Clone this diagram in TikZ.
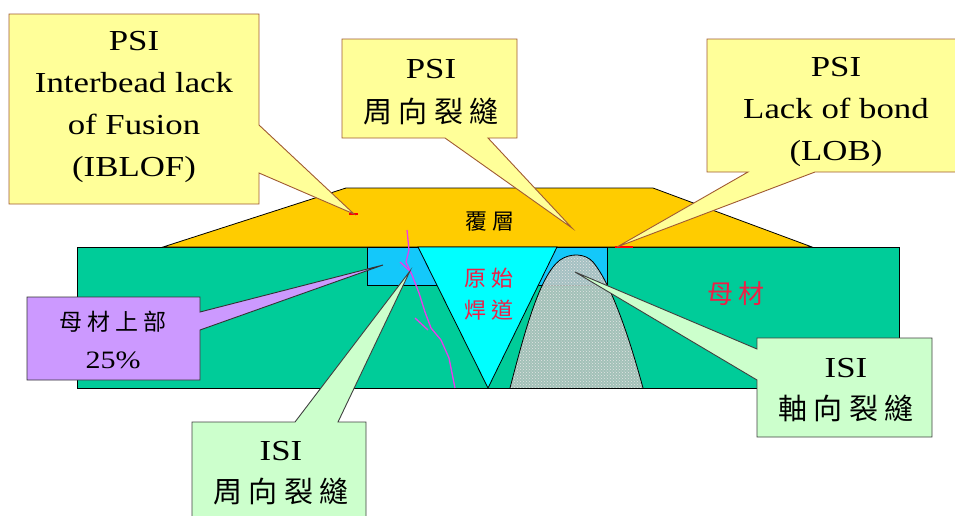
\documentclass[tikz,border=0pt]{standalone}
\usepackage{fontspec}
\setmainfont{Liberation Serif}[FakeStretch=1.2]
\newfontfamily\cjk[LetterSpace=22]{Noto Sans CJK TC}
\usetikzlibrary{patterns}

\definecolor{basegreen}{RGB}{0,204,153}
\definecolor{cladorange}{RGB}{255,204,0}
\definecolor{zoneblue}{RGB}{20,200,250}
\definecolor{beadcyan}{RGB}{0,255,255}
\definecolor{calloutyellow}{RGB}{255,255,153}
\definecolor{calloutedge}{RGB}{160,90,50}
\definecolor{calloutpurple}{RGB}{204,153,255}
\definecolor{calloutgreen}{RGB}{204,255,204}
\definecolor{crackpink}{RGB}{235,60,235}
\definecolor{labelred}{RGB}{240,30,70}
\definecolor{repairgrey}{RGB}{180,192,188}

\tikzset{
  solidpart/.style={draw=black, line width=0.8pt},
  yellowcall/.style={fill=calloutyellow, draw=calloutedge, line width=0.9pt, line join=miter},
  purplecall/.style={fill=calloutpurple, draw=black!80, line width=0.9pt},
  greencall/.style={fill=calloutgreen, draw=black!75, line width=0.9pt},
  calltext/.style={align=center, inner sep=0pt, font=\fontsize{29}{42}\selectfont},
  smalltext/.style={align=center, inner sep=0pt, font=\fontsize{25}{38}\selectfont},
  flaw/.style={red, line width=2.2pt},
}

\begin{document}
\begin{tikzpicture}[x=1pt,y=-1pt]
\useasboundingbox (0,0) rectangle (955,515);

% base metal plate
\draw[solidpart, fill=basegreen] (77,247) rectangle (899,388);
% cladding layer
\draw[solidpart, fill=cladorange] (163,247) -- (346,188) -- (653,188) -- (812,247) -- cycle;
% upper zone of the base metal next to the groove
\draw[solidpart, fill=zoneblue] (367,247) rectangle (607,285);
% original weld bead
\draw[solidpart, fill=beadcyan] (418,247) -- (557,247) -- (488,388) -- cycle;
% repair weld
\path[fill=repairgrey, fill opacity=0.9]
  (510,388) .. controls (525,330) and (540,275) .. (560,260)
  .. controls (570,253) and (585,253) .. (593,262)
  .. controls (612,285) and (630,340) .. (643,388) -- cycle;
\path[pattern=crosshatch dots, pattern color=white!80!gray]
  (510,388) .. controls (525,330) and (540,275) .. (560,260)
  .. controls (570,253) and (585,253) .. (593,262)
  .. controls (612,285) and (630,340) .. (643,388) -- cycle;
\draw[line width=0.8pt]
  (510,388) .. controls (525,330) and (540,275) .. (560,260)
  .. controls (570,253) and (585,253) .. (593,262)
  .. controls (612,285) and (630,340) .. (643,388);
\draw[solidpart] (77,388) -- (899,388);

% crack path through the base metal
\draw[crackpink, line width=1.3pt, line join=round]
  (407,230) -- (409,250) -- (406,262) -- (412,275) -- (419,293)
  -- (425,312) -- (431,328) -- (441,340) -- (449,358) -- (455,388);
\draw[crackpink, line width=1.3pt] (400,262) -- (411,272);
\draw[crackpink, line width=1.3pt] (415,318) -- (428,330);

% flaw marks
\draw[flaw] (349,214) -- (358,214);
\draw[flaw] (615,247) -- (633,247);

% callout tips
\coordinate (tipIB) at (354,214);
\coordinate (tipPC) at (572,228);
\coordinate (tipLOB) at (617,247);
\coordinate (tipUP) at (383,265);
\coordinate (tipIC) at (410,271);
\coordinate (tipIA) at (575,272);

% PSI interbead lack of fusion
\draw[yellowcall] (9,14) -- (259,14) -- (259,125) -- (tipIB) -- (259,173)
  -- (259,204) -- (9,204) -- cycle;
\node[calltext] (iblof) at (134,107) {PSI\\Interbead lack\\of Fusion\\(IBLOF)};

% PSI circumferential crack
\draw[yellowcall] (342,39) -- (517,39) -- (517,138) -- (488,138) -- (tipPC)
  -- (445,138) -- (342,138) -- cycle;
\node[calltext, font=\fontsize{29}{44}\selectfont] (psicirc) at (431,92) {PSI\\{\cjk 周向裂縫}};

% PSI lack of bond
\draw[yellowcall] (707,39) -- (960,39) -- (960,172) -- (815,172) -- (tipLOB)
  -- (748,172) -- (707,172) -- cycle;
\node[calltext] (lob) at (836,112) {PSI\\Lack of bond\\(LOB)};

% upper quarter of the base metal
\draw[purplecall] (27,297) -- (200,297) -- (200,312) -- (tipUP) -- (200,330)
  -- (200,380) -- (27,380) -- cycle;
\node[smalltext] (upper) at (113,340) {{\cjk\fontsize{23}{38}\selectfont 母材上部}\\25\%};

% ISI circumferential crack
\draw[greencall] (192,422) -- (295,422) -- (tipIC) -- (338,422) -- (366,422)
  -- (366,530) -- (192,530) -- cycle;
\node[calltext] (isicirc) at (281,473) {ISI\\{\cjk 周向裂縫}};

% ISI axial crack
\draw[greencall] (757,338) -- (932,338) -- (932,437) -- (757,437) -- (757,380)
  -- (tipIA) -- (757,349) -- cycle;
\node[calltext] (isiax) at (846,390) {ISI\\{\cjk 軸向裂縫}};

% region labels
\node[inner sep=0pt, font=\cjk\fontsize{22}{26}\selectfont] (clad) at (490,222) {覆層};
\node[inner sep=0pt, align=center, text=labelred, font=\cjk\fontsize{22}{32}\selectfont] (bead) at (489,294) {原始\\焊道};
\node[inner sep=0pt, text=labelred, font=\cjk\fontsize{26}{30}\selectfont] (base) at (736,294) {母材};
\end{tikzpicture}
\end{document}
